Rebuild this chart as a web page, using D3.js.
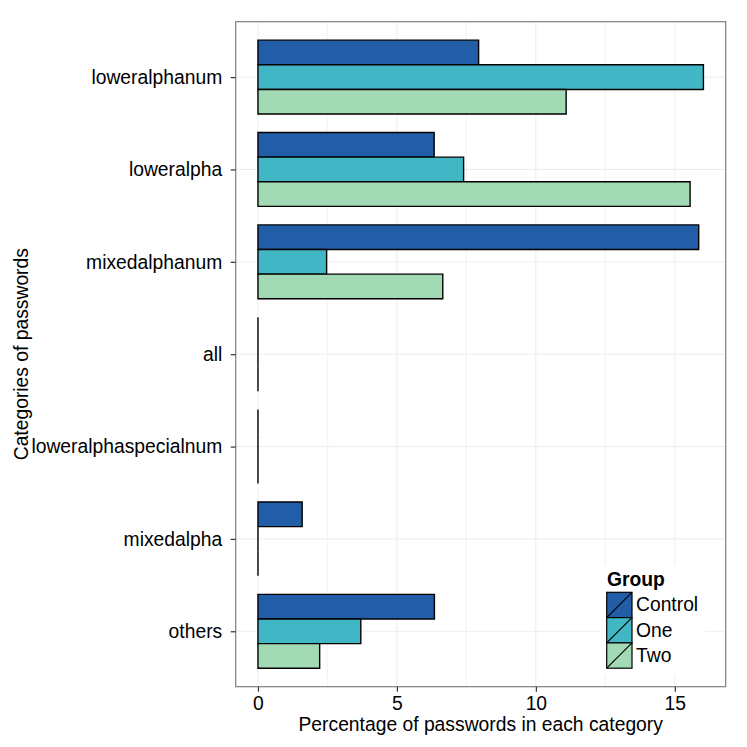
<!DOCTYPE html>
<html><head><meta charset="utf-8">
<script src="https://cdn.jsdelivr.net/npm/d3@7"></script>
<style>body{margin:0;background:#fff}svg{display:block}text{font-family:"Liberation Sans",Arial,sans-serif}</style>
</head><body>
<svg id="c" width="747" height="747"></svg>
<script>
const categories = ["loweralphanum","loweralpha","mixedalphanum","all","loweralphaspecialnum","mixedalpha","others"];
const groups = ["Control","One","Two"];
const control = [7.94, 6.34, 15.86, 0, 0, 1.59, 6.35];
const one     = [16.03, 7.40, 2.47, 0, 0, 0, 3.70];
const two     = [11.09, 15.55, 6.65, 0, 0, 0, 2.22];
const xTicks = [0, 5, 10, 15];
const colors = ["#225ea8", "#41b6c4", "#a1dab4"];

const series = [control, one, two];
const data = [];
categories.forEach((c, i) => groups.forEach((g, j) => data.push({cat: c, grp: g, v: series[j][i]})));

const FS = 19.3;
const svg = d3.select("#c");
const L = 235.7, R = 725.7, T = 21.7, B = 686.7;
const maxV = d3.max(data, d => d.v);
const pad = maxV * 0.05;
const x = d3.scaleLinear().domain([0 - pad, maxV + pad]).range([L, R]);
const y = d3.scalePoint().domain(categories).range([T, B]).padding(0.6);
const step = y.step();
const bandW = step * 0.8;
const sub = d3.scaleBand().domain(groups).range([-bandW / 2, bandW / 2]);
const col = d3.scaleOrdinal().domain(groups).range(colors);

svg.append("rect").attr("x", L).attr("y", T).attr("width", R - L).attr("height", B - T).attr("fill", "#fff");

// minor grid
const minor = [2.5, 7.5, 12.5];
svg.append("g").selectAll("line").data(minor).join("line")
  .attr("x1", d => x(d)).attr("x2", d => x(d)).attr("y1", T).attr("y2", B)
  .attr("stroke", "#f5f5f5").attr("stroke-width", 1.4);
// major grid
svg.append("g").selectAll("line").data(xTicks).join("line")
  .attr("x1", d => x(d)).attr("x2", d => x(d)).attr("y1", T).attr("y2", B)
  .attr("stroke", "#e8e8e8").attr("stroke-width", 0.8);
svg.append("g").selectAll("line").data(categories).join("line")
  .attr("x1", L).attr("x2", R).attr("y1", d => y(d)).attr("y2", d => y(d))
  .attr("stroke", "#e8e8e8").attr("stroke-width", 0.8);

// bars (paths so zero-width bars still show their outline)
svg.append("g").selectAll("path").data(data).join("path")
  .attr("d", d => {
    const x0 = x(0), x1 = x(d.v), y0 = y(d.cat) + sub(d.grp), h = sub.bandwidth();
    return `M${x0},${y0}H${x1}V${y0 + h}H${x0}Z`;
  })
  .attr("fill", d => col(d.grp))
  .attr("stroke", "#000").attr("stroke-width", 1.4);

// legend
const lg = svg.append("g");
lg.append("rect").attr("x", 600).attr("y", 565).attr("width", 105).attr("height", 110).attr("fill", "#fff");
lg.append("text").attr("x", 607).attr("y", 586).attr("font-size", FS).attr("font-weight", "bold").text("Group");
groups.forEach((g, i) => {
  const ky = 592.3 + i * 25.3;
  lg.append("rect").attr("x", 606.7).attr("y", ky).attr("width", 25.3).attr("height", 25.3)
    .attr("fill", col(g)).attr("stroke", "#000").attr("stroke-width", 1.2);
  lg.append("line").attr("x1", 606.7).attr("y1", ky + 25.3).attr("x2", 632).attr("y2", ky)
    .attr("stroke", "#000").attr("stroke-width", 1.2);
  lg.append("text").attr("x", 636).attr("y", ky + 19).attr("font-size", FS).text(g);
});

// panel border
svg.append("rect").attr("x", L).attr("y", T).attr("width", R - L).attr("height", B - T)
  .attr("fill", "none").attr("stroke", "#7f7f7f").attr("stroke-width", 1.2);

// axes
const xa = svg.append("g").attr("transform", `translate(0,${B})`)
  .call(d3.axisBottom(x).tickValues(xTicks).tickSize(5).tickPadding(5).tickFormat(d3.format("d")));
xa.select(".domain").remove();
xa.selectAll("line").attr("stroke", "#333").attr("stroke-width", 1.2);
xa.selectAll("text").attr("font-size", FS).attr("fill", "#000").attr("font-family", "Liberation Sans, Arial, sans-serif");

const ya = svg.append("g").attr("transform", `translate(${L},0)`)
  .call(d3.axisLeft(y).tickSize(5).tickPadding(8.5));
ya.select(".domain").remove();
ya.selectAll("line").attr("stroke", "#333").attr("stroke-width", 1.2);
ya.selectAll("text").attr("font-size", FS).attr("fill", "#000").attr("font-family", "Liberation Sans, Arial, sans-serif");

svg.append("text").attr("x", (L + R) / 2).attr("y", 731).attr("text-anchor", "middle")
  .attr("font-size", FS).text("Percentage of passwords in each category");
svg.append("text").attr("transform", `translate(28,${(T + B) / 2}) rotate(-90)`).attr("text-anchor", "middle")
  .attr("font-size", FS).text("Categories of passwords");
</script>
</body></html>
